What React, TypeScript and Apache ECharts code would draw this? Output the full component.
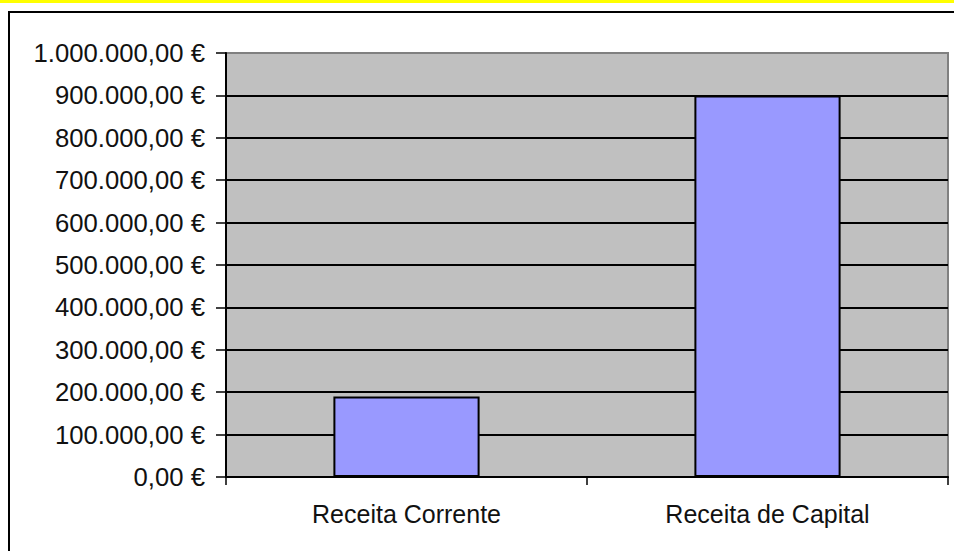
import React, { useEffect, useRef } from "react";
import * as echarts from "echarts";

const categories = ["Receita Corrente", "Receita de Capital"];
const values = [190000, 900000];
const yTicks = { min: 0, max: 1000000, interval: 100000 };

function formatEuro(v: number): string {
  const intPart = Math.round(v).toString().replace(/\B(?=(\d{3})+(?!\d))/g, ".");
  return intPart + ",00 €";
}

export default function App() {
  const ref = useRef<HTMLDivElement>(null);
  useEffect(() => {
    if (!ref.current) return;
    const chart = echarts.init(ref.current, undefined, { renderer: "svg" });
    const gridColors = Array.from({ length: 11 }, (_, i) => (i === 10 ? "#808080" : "#000000"));
    chart.setOption({
      animation: false,
      backgroundColor: "#ffffff",
      textStyle: { fontFamily: "Liberation Sans, Arial, sans-serif" },
      graphic: [
        { type: "rect", left: 0, top: 0, shape: { width: 954, height: 3 }, style: { fill: "#FFFF00" }, z: 0 },
        { type: "rect", x: 9, y: 12, shape: { width: 1000, height: 600 }, style: { fill: "none", stroke: "#000", lineWidth: 2 }, z: 0 },
      ],
      grid: {
        left: 226,
        right: 6,
        top: 53,
        bottom: 74,
        show: true,
        backgroundColor: "#C0C0C0",
        borderColor: "#808080",
        borderWidth: 2,
      },
      xAxis: {
        type: "category",
        data: categories,
        axisLine: { show: true, lineStyle: { color: "#000", width: 2 } },
        axisTick: { show: true, length: 8, lineStyle: { color: "#000", width: 1.5 } },
        axisLabel: { color: "#111", fontSize: 25, margin: 24 },
        splitLine: { show: false },
      },
      yAxis: {
        type: "value",
        min: yTicks.min,
        max: yTicks.max,
        interval: yTicks.interval,
        axisLine: { show: true, lineStyle: { color: "#000", width: 2 } },
        axisTick: { show: true, length: 10, lineStyle: { color: "#000", width: 1.5 } },
        axisLabel: { color: "#111", fontSize: 25.7, margin: 21, formatter: (v: number) => formatEuro(v) },
        splitLine: { show: true, lineStyle: { color: gridColors, width: 2 } },
      },
      series: [
        {
          type: "bar",
          data: values,
          barWidth: "40.5%",
          itemStyle: { color: "#9999FF", borderColor: "#000", borderWidth: 2 },
        },
      ],
    });
    return () => chart.dispose();
  }, []);
  return <div ref={ref} style={{ position: "fixed", left: 0, top: 0, width: 954, height: 551 }} />;
}
